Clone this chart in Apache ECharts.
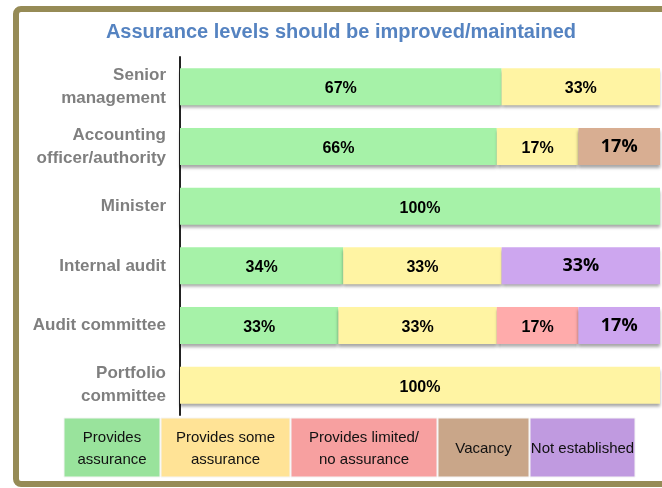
<!DOCTYPE html>
<html>
<head>
<meta charset="utf-8">
<script src="https://cdn.jsdelivr.net/npm/echarts@6/dist/echarts.min.js"></script>
<style>
  html, body { margin: 0; padding: 0; background: #fff; }
  #chart { width: 662px; height: 488px; }
</style>
</head>
<body>
<div id="chart"></div>
<script>
// data
const categories = ['Senior\nmanagement', 'Accounting\nofficer/authority', 'Minister', 'Internal audit', 'Audit committee', 'Portfolio\ncommittee']
const providesAssurance = [67, 66, 100, 34, 33, 0]
const someAssurance = [33, 17, 0, 33, 33, 100]
const limitedAssurance = [0, 0, 0, 0, 17, 0]
const vacancy = [0, 17, 0, 0, 0, 0]
const notEstablished = [0, 0, 0, 33, 17, 0]

const seriesNames = ['Provides assurance', 'Provides some assurance', 'Provides limited/ no assurance', 'Vacancy', 'Not established']
const legendLabels = ['Provides\nassurance', 'Provides some\nassurance', 'Provides limited/\nno assurance', 'Vacancy', 'Not established']
const barColors = ['#a6f2a8', '#fff4a3', '#ffabab', '#d8ae92', '#cda6ef']
const legendColors = ['#99e39c', '#ffe396', '#f7a0a0', '#c9a689', '#c09ae0']
const legendWidths = [96, 129, 146, 91, 105] // box widths
const allData = [providesAssurance, someAssurance, limitedAssurance, vacancy, notEstablished]

let mycharts = echarts.init(document.getElementById('chart'))

let series = allData.map((arr, i) => ({
  name: seriesNames[i],
  type: 'bar',
  stack: 'total',
  barWidth: 37,
  data: arr.map(v => (v === 0 ? null : v)),
  itemStyle: {
    color: barColors[i],
    shadowColor: 'rgba(0,0,0,0.35)',
    shadowOffsetY: 3,
    shadowBlur: 3,
  },
  label: {
    show: true,
    position: 'inside',
    offset: i >= 3 ? [0, 0] : [0, 2],
    formatter: p => p.value + '%',
    color: '#000',
    fontWeight: 'bold',
    fontSize: i >= 3 ? 18 : 16,
    fontFamily: i >= 3 ? 'Open Sans' : 'Liberation Sans',
  },
}))

// legend drawn as boxes with text
let legendGraphics = []
let lx = 64
legendLabels.forEach((t, i) => {
  legendGraphics.push({
    type: 'rect',
    shape: { x: lx, y: 418, width: legendWidths[i], height: 59 },
    style: { fill: legendColors[i], stroke: '#f4f4f4', lineWidth: 1 },
  })
  legendGraphics.push({
    type: 'text',
    x: lx + legendWidths[i] / 2,
    y: 449,
    style: {
      text: t,
      fill: '#111',
      fontSize: 15,
      fontFamily: 'Liberation Sans',
      align: 'center',
      verticalAlign: 'middle',
      lineHeight: 22,
    },
  })
  lx += legendWidths[i] + 1
})

mycharts.setOption({
  animation: false,
  title: {
    text: 'Assurance levels should be improved/maintained',
    left: 336,
    textAlign: 'center',
    top: 17,
    textStyle: {
      color: '#5583c1',
      fontSize: 20,
      fontWeight: 'bold',
      fontFamily: 'Liberation Sans',
    },
  },
  grid: { left: 180, right: 2, top: 57, bottom: 73 },
  xAxis: {
    type: 'value',
    min: 0,
    max: 100,
    show: false,
  },
  yAxis: {
    type: 'category',
    inverse: true,
    data: categories,
    axisTick: { show: false },
    axisLine: { show: true, lineStyle: { color: '#222', width: 2 } },
    axisLabel: {
      color: '#7f7f7f',
      fontWeight: 'bold',
      fontSize: 17,
      fontFamily: 'Liberation Sans',
      lineHeight: 23,
      margin: 14,
    },
  },
  series: series,
  graphic: [
    {
      type: 'rect',
      shape: { x: 16, y: 9, width: 680, height: 475, r: 5 },
      style: { fill: 'none', stroke: '#968b56', lineWidth: 6 },
      z: 100,
    },
    ...legendGraphics,
  ],
})
</script>
</body>
</html>
